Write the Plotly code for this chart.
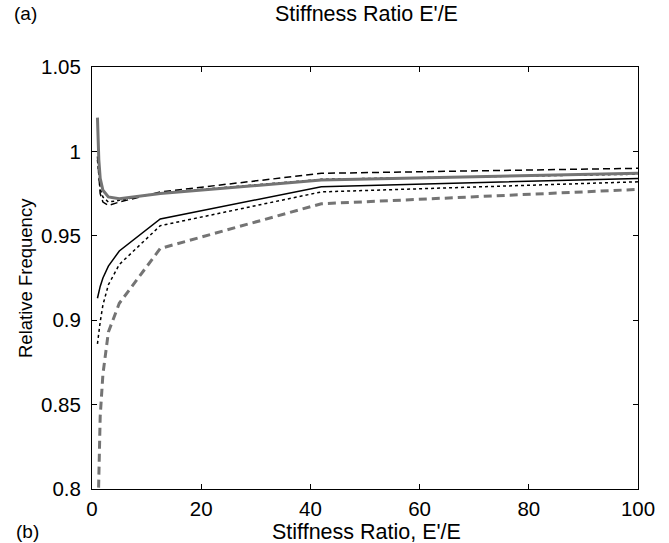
import plotly.graph_objects as go

# Stiffness ratio sample points (E'/E)
x_vals = [1, 1.25, 1.5, 2, 3, 5, 12.5, 42, 100]

# Relative frequency series
gray_solid = [1.020, 0.995, 0.984, 0.977, 0.973, 0.972, 0.975, 0.983, 0.987]
black_dash = [0.997, 0.983, 0.975, 0.970, 0.968, 0.970, 0.976, 0.987, 0.990]
black_dot_upper = [0.995, 0.985, 0.978, 0.973, 0.970, 0.971, 0.9755, 0.9835, 0.9865]
black_solid = [0.913, 0.917, 0.920, 0.925, 0.932, 0.941, 0.960, 0.979, 0.984]
black_dot_lower = [0.886, 0.893, 0.899, 0.909, 0.921, 0.933, 0.956, 0.976, 0.982]
gray_dash = [0.770, 0.815, 0.843, 0.868, 0.893, 0.910, 0.9425, 0.969, 0.9775]

y_ticks = [0.8, 0.85, 0.9, 0.95, 1.0, 1.05]
y_tick_text = ["0.8", "0.85", "0.9", "0.95", "1", "1.05"]
x_ticks = [0, 20, 40, 60, 80, 100]

GRAY = "#747474"
FONT = "Liberation Sans, Arial, sans-serif"

W, H = 669, 543
ML, MT, MR, MB = 92, 67, 669 - 638, 543 - 489

fig = go.Figure()
fig.add_trace(go.Scatter(x=x_vals, y=gray_dash, mode="lines",
                         line=dict(color=GRAY, width=3, dash="8px,5px")))
fig.add_trace(go.Scatter(x=x_vals, y=black_dot_lower, mode="lines",
                         line=dict(color="black", width=1.5, dash="dot")))
fig.add_trace(go.Scatter(x=x_vals, y=black_solid, mode="lines",
                         line=dict(color="black", width=1.5)))
fig.add_trace(go.Scatter(x=x_vals, y=black_dot_upper, mode="lines",
                         line=dict(color="black", width=1.5, dash="dot")))
fig.add_trace(go.Scatter(x=x_vals, y=black_dash, mode="lines",
                         line=dict(color="black", width=1.5, dash="7px,4px")))
fig.add_trace(go.Scatter(x=x_vals, y=gray_solid, mode="lines",
                         line=dict(color=GRAY, width=3)))

axis_common = dict(showline=True, linecolor="black", linewidth=1, mirror="ticks",
                   ticks="inside", ticklen=5, tickcolor="black", showgrid=False,
                   zeroline=False, tickfont=dict(family=FONT, size=20.5, color="black"))

plot_w = W - ML - MR
plot_h = H - MT - MB

def px_to_paper_x(px):
    return (px - ML) / plot_w

def px_to_paper_y(py):
    return (H - MB - py) / plot_h

def label(text, px, py, size, **kw):
    return dict(text=text, x=px_to_paper_x(px), y=px_to_paper_y(py),
                xref="paper", yref="paper", showarrow=False,
                xanchor="center", yanchor="middle", borderpad=0,
                font=dict(family=FONT, size=size, color="black"), **kw)

fig.update_layout(
    width=W, height=H,
    margin=dict(l=ML, r=MR, t=MT, b=MB),
    paper_bgcolor="white", plot_bgcolor="white",
    showlegend=False,
    font=dict(family=FONT, size=20, color="black"),
    xaxis=dict(range=[0, 100], tickvals=x_ticks, ticklabelstandoff=1, **axis_common),
    yaxis=dict(range=[0.8, 1.05], tickvals=y_ticks, ticktext=y_tick_text,
               ticklabelstandoff=6, **axis_common),
    annotations=[
        label("Stiffness Ratio, E'/E", 366, 532, 21.5),
        label("Relative Frequency", 25, 278, 18.5, textangle=-90),
        label("(b)", 27, 531, 19),
        label("(a)", 25, 14, 19),
        label("Stiffness Ratio E'/E", 366, 14, 21.5),
    ],
)

fig.write_html(
    "out.html",
    config={"displayModeBar": False},
    post_script="document.body.style.margin='0';document.body.style.padding='0';",
)
